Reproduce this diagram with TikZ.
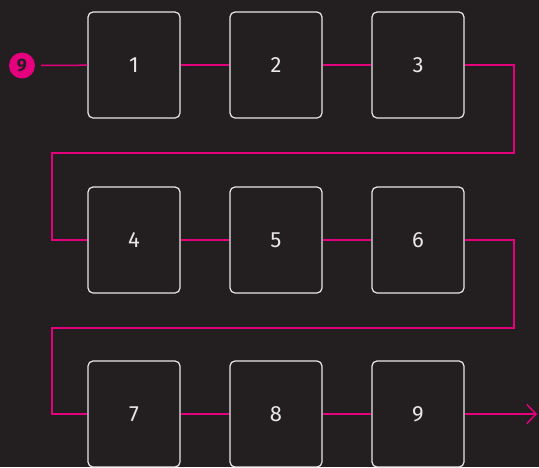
\documentclass[tikz,border=0pt]{standalone}
\usepackage{fontspec}
\setmainfont{Fira Sans}
\usetikzlibrary{arrows.meta}
\definecolor{bg}{HTML}{231F20}
\definecolor{mag}{HTML}{E5007D}
\definecolor{boxline}{HTML}{E8E8E8}
\begin{document}
\begin{tikzpicture}[x=1pt,y=-1pt,
  stepbox/.style={draw=boxline,line width=1.2pt,rounded corners=5pt,minimum width=92pt,minimum height=106pt,inner sep=0pt,text=boxline,font=\fontsize{22}{24}\selectfont},
  link/.style={draw=mag,line width=1.5pt}]
\fill[bg] (0,0) rectangle (539,467);
\useasboundingbox (0,0) rectangle (539,467);
\node[circle,fill=mag,minimum size=26pt,inner sep=0pt,text=bg,font=\bfseries\fontsize{18}{19}\selectfont] (start) at (22,65.5) {9};
\foreach \n/\x/\y in {1/134/65,2/276/65,3/418/65,4/134/240,5/276/240,6/418/240,7/134/414,8/276/414,9/418/414}
  \node[stepbox] (b\n) at (\x,\y) {\n};
\coordinate (r1) at (514,153);
\coordinate (l1) at (52,153);
\coordinate (r2) at (514,328);
\coordinate (l2) at (52,328);
\coordinate (endp) at (537,414);
\draw[link,shorten <=6pt] (start) -- (b1);
\draw[link] (b1) -- (b2);
\draw[link] (b2) -- (b3);
\draw[link] (b3.east) -| (r1) -- (l1) |- (b4.west);
\draw[link] (b4) -- (b5);
\draw[link] (b5) -- (b6);
\draw[link] (b6.east) -| (r2) -- (l2) |- (b7.west);
\draw[link] (b7) -- (b8);
\draw[link] (b8) -- (b9);
\draw[link,-{Straight Barb[length=9pt,width=19pt,line width=1.5pt]}] (b9.east) -- (endp);
\end{tikzpicture}
\end{document}
